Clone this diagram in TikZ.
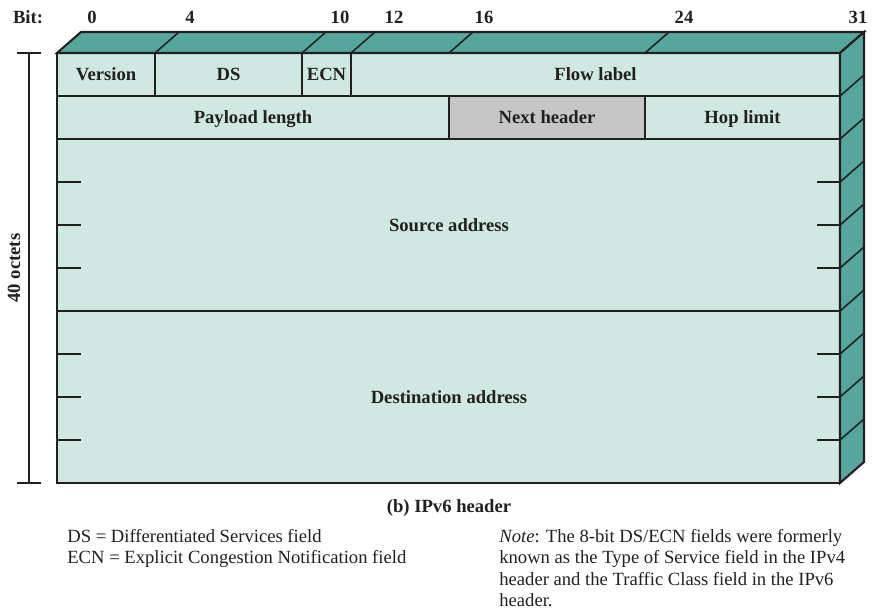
\documentclass[tikz,border=0pt]{standalone}
\usepackage{fontspec}
\setmainfont{Liberation Serif}
\usetikzlibrary{positioning}
\definecolor{facefill}{RGB}{207,232,226}
\definecolor{sidefill}{RGB}{85,166,156}
\definecolor{nextfill}{RGB}{198,198,198}
\definecolor{edge}{RGB}{35,31,32}
\tikzset{
	x=0.02cm, y=-0.02cm,
	outline/.style = {draw=edge, line width=1.2pt, line join=miter},
	sep/.style = {draw=edge, line width=0.9pt},
	tick/.style = {draw=edge, line width=1.1pt},
	fld/.style = {font=\bfseries\fontsize{10.6}{12}\selectfont, text=edge, inner sep=0pt,
		text height=1.8ex, text depth=0.25ex},
	bitlbl/.style = {font=\bfseries\fontsize{10.6}{12}\selectfont, text=edge, inner sep=0pt},
	legend/.style = {font=\fontsize{10.6}{12.2}\selectfont, text=edge, align=left,
		anchor=north west, inner sep=0pt},
}
\begin{document}
\begin{tikzpicture}
	\useasboundingbox (0,0) rectangle (874,611);
	% faces
	\fill[facefill] (57,53) rectangle (840,483);
	\fill[nextfill] (449,96) rectangle (645,139);
	\path[fill=sidefill, outline] (57,53) -- (81,32) -- (864,32) -- (840,53) -- cycle;
	\path[fill=sidefill, outline] (840,53) -- (864,32) -- (864,462) -- (840,483) -- cycle;
	% top face dividers
	\foreach \x in {155,302,351,449,645}
		\draw[sep] (\x,53) -- ++(24,-21);
	% side face dividers
	\foreach \y in {96,139,182,225,268,311,354,397,440}
		\draw[sep] (840,\y) -- ++(24,-21);
	% rows and columns
	\foreach \y in {96,139,311}
		\draw[sep] (57,\y) -- (840,\y);
	\foreach \x in {155,302,351}
		\draw[sep] (\x,53) -- (\x,96);
	\foreach \x in {449,645}
		\draw[sep] (\x,96) -- (\x,139);
	% address ticks
	\foreach \y in {182,225,268,354,397,440}{
		\draw[tick] (57,\y) -- (81,\y);
		\draw[tick] (817,\y) -- (840,\y);
	}
	\draw[outline] (57,53) rectangle (840,483);
	% field names
	\node[fld] (version) at (106,74.5) {Version};
	\node[fld] (ds) at (228.5,74.5) {DS};
	\node[fld] (ecn) at (326.5,74.5) {ECN};
	\node[fld] (flow) at (595.5,74.5) {Flow label};
	\node[fld] (payload) at (253,117.5) {Payload length};
	\node[fld] (next) at (547,117.5) {Next header};
	\node[fld] (hop) at (742.5,117.5) {Hop limit};
	\node[fld] (src) at (449,225) {Source address};
	\node[fld] (dst) at (449,397) {Destination address};
	% bit numbers
	\node[bitlbl] (bit) at (28,17) {Bit:};
	\node[bitlbl] (b0) at (92,17) {0};
	\node[bitlbl] (b4) at (190,17) {4};
	\node[bitlbl] (b10) at (340,17) {10};
	\node[bitlbl] (b12) at (394,17) {12};
	\node[bitlbl] (b16) at (484,17) {16};
	\node[bitlbl] (b24) at (684,17) {24};
	\node[bitlbl] (b31) at (858,17) {31};
	% length bar
	\draw[sep] (17,53) -- (41,53);
	\draw[sep] (17,483) -- (41,483);
	\draw[sep] (29,53) -- (29,483);
	\node[bitlbl, rotate=90] (octets) at (14,268) {40 octets};
	% caption and notes
	\node[fld] (caption) at (449,506) {(b) IPv6 header};
	\node[legend] (abbr) at (67,529) {DS = Differentiated Services field\\
		ECN = Explicit Congestion Notification field};
	\node[legend] (note) at (499,529) {\textit{Note}: The 8-bit DS/ECN fields were formerly\\
		known as the Type of Service field in the IPv4\\
		header and the Traffic Class field in the IPv6\\
		header.};
\end{tikzpicture}
\end{document}
